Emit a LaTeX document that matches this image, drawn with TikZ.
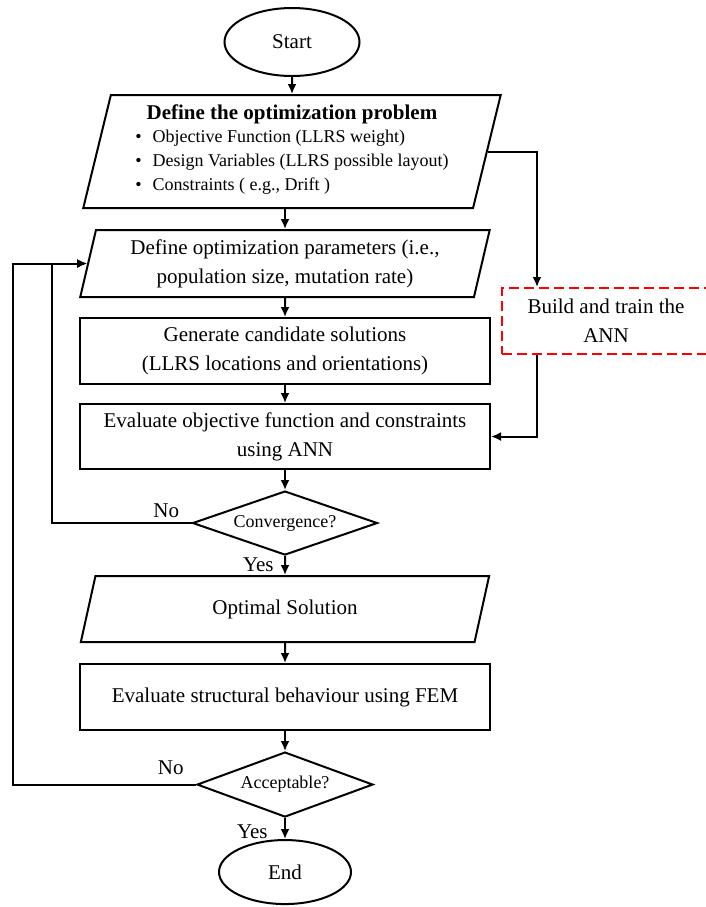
\documentclass[tikz,border=0pt]{standalone}
\usepackage{fontspec}
\setmainfont{Liberation Serif}
\usetikzlibrary{arrows.meta,positioning,shapes.geometric,calc}
\newcommand{\fsmain}{\fontsize{10.5}{14.5}\selectfont}
\newcommand{\fsdec}{\fontsize{9}{12}\selectfont}
\tikzset{
  term/.style={ellipse, draw=black, line width=1pt, minimum width=67.5pt, minimum height=34pt,
               inner sep=1pt, font=\fsmain},
  blk/.style={rectangle, draw=black, line width=1pt, minimum width=205pt, minimum height=33.5pt,
              align=center, inner sep=2pt, font=\fsmain},
  io/.style={trapezium, trapezium left angle=76, trapezium right angle=104, trapezium stretches=true,
             draw=black, line width=1pt, minimum width=205pt, minimum height=33.5pt,
             align=center, inner sep=1pt, font=\fsmain},
  dec/.style={diamond, aspect=2.9, draw=black, line width=1pt, minimum width=92.5pt, minimum height=32pt,
              inner sep=0pt, font=\fsdec},
  annbox/.style={rectangle, draw=red, line width=1pt, dash pattern=on 5pt off 2.5pt,
                 minimum width=104pt, minimum height=33pt, align=center, font=\fsmain},
  ar/.style={-{Latex[length=5pt, width=4.5pt]}, line width=1pt},
  lbl/.style={font=\fsmain, inner sep=0pt},
}

\begin{document}
\begin{tikzpicture}

  \useasboundingbox (0,0) rectangle (353pt,-453.5pt);

  % ============ main column ============
  \node[term] (start) at (146pt,-21pt) {Start};
  \node[io, minimum width=209pt, minimum height=56.5pt, below=8.5pt of start] (prob)
    {\textbf{Define the optimization problem}\\[-3pt]
     {\fsdec\begin{tabular}[t]{@{}l@{}}
       \textbullet\hspace{5.5pt}Objective Function (LLRS weight)\\
       \textbullet\hspace{5.5pt}Design Variables (LLRS possible layout)\\
       \textbullet\hspace{5.5pt}Constraints ( e.g., Drift )
     \end{tabular}}};
  \node[io, below=10pt of prob, xshift=-3.5pt] (params)
    {Define optimization parameters (i.e.,\\ population size, mutation rate)};
  \node[blk, minimum height=33pt, below=9.5pt of params] (gen)
    {Generate candidate solutions\\ (LLRS locations and orientations)};
  \node[blk, minimum height=32.5pt, below=9pt of gen] (eval)
    {Evaluate objective function and constraints\\ using ANN};
  \node[dec, below=10pt of eval] (conv) {Convergence?};
  \node[io, minimum height=33pt, below=9.5pt of conv] (opt) {Optimal Solution};
  \node[blk, minimum height=33pt, below=10pt of opt] (fem)
    {Evaluate structural behaviour using FEM};
  \node[dec, aspect=2.7, minimum width=88pt, minimum height=32.5pt, below=10pt of fem] (acc) {Acceptable?};
  \node[term, minimum width=66pt, minimum height=32pt, below=10.5pt of acc] (end) {End};

  % ============ surrogate model ============
  \node[annbox] (ann) at (303pt,-160.5pt) {Build and train the\\ ANN};

  \draw[ar] (start) -- (prob);
  \draw[ar] (prob.south -| params.north) -- (params.north);
  \draw[ar] (params) -- (gen);
  \draw[ar] (gen) -- (eval);
  \draw[ar] (eval) -- (conv);
  \draw[ar] (conv) -- (opt);
  \draw[ar] (opt) -- (fem);
  \draw[ar] (fem) -- (acc);
  \draw[ar] (acc) -- (end);

  \draw[ar] (prob.east) -| ($(ann.north west)+(18pt,0)$);
  \draw[ar] ($(ann.south west)+(18pt,0)$) |- (eval.east);

  % feedback loops
  \draw[ar] (conv.west) -- ++(-70pt,0) |- (params.west);
  \draw[ar] (acc.west) -- ++(-91.5pt,0) |- (params.west);

  \node[lbl, anchor=south east] (no1) at ($(conv.west)+(-6pt,2.5pt)$) {No};
  \node[lbl, anchor=north east] (yes1) at ($(conv.south)+(-5.5pt,-0.5pt)$) {Yes};
  \node[lbl, anchor=south east] (no2) at ($(acc.west)+(-6pt,4.5pt)$) {No};
  \node[lbl, anchor=north east] (yes2) at ($(acc.south)+(-8.5pt,-3pt)$) {Yes};

\end{tikzpicture}
\end{document}
